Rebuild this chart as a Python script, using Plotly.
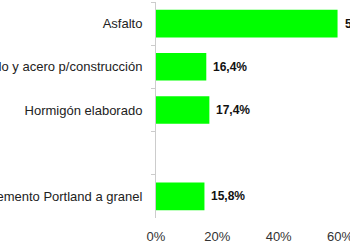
import plotly.graph_objects as go

categories = ["Asfalto", "Hierro redondo y acero p/construcción", "Hormigón elaborado", " ", "Cemento Portland a granel"]
values = [59.2, 16.4, 17.4, None, 15.8]
labels = ["" if v is None else f"{v:.1f}".replace(".", ",") + "%" for v in values]
x_ticks = [0, 20, 40, 60]
x_ticklabels = ["0%", "20%", "40%", "60%"]

fig = go.Figure(go.Bar(
    x=values, y=categories, orientation="h",
    marker=dict(color="#00ff00", line=dict(width=0)),
    width=0.64,
    cliponaxis=False,
))
for cat, v, lab in zip(categories, values, labels):
    if v is None:
        continue
    fig.add_annotation(x=v, y=cat, text=lab, showarrow=False, xanchor="left", xshift=5,
                       font=dict(family="Liberation Sans", size=12, color="#111111", weight="bold"))
fig.update_layout(
    width=350, height=250,
    margin=dict(l=156, r=10, t=2, b=32, autoexpand=False),
    paper_bgcolor="white", plot_bgcolor="white",
    showlegend=False,
    font=dict(family="Liberation Sans", size=13, color="#222222"),
)
fig.update_xaxes(range=[0, 60], tickvals=x_ticks, ticktext=x_ticklabels, showgrid=False,
                 zeroline=False, showline=False, ticks="", automargin=False,
                 ticklabeloverflow="allow", ticklabelstandoff=9,
                 tickfont=dict(size=13, color="#333333"))
fig.update_yaxes(autorange="reversed", showgrid=False, showline=True, linecolor="#cccccc", linewidth=1,
                 ticks="outside", ticklen=4, tickcolor="#cccccc", tickson="boundaries", automargin=False,
                 ticklabelstandoff=10, tickfont=dict(size=13, color="#222222"))
fig.write_html("out.html")
